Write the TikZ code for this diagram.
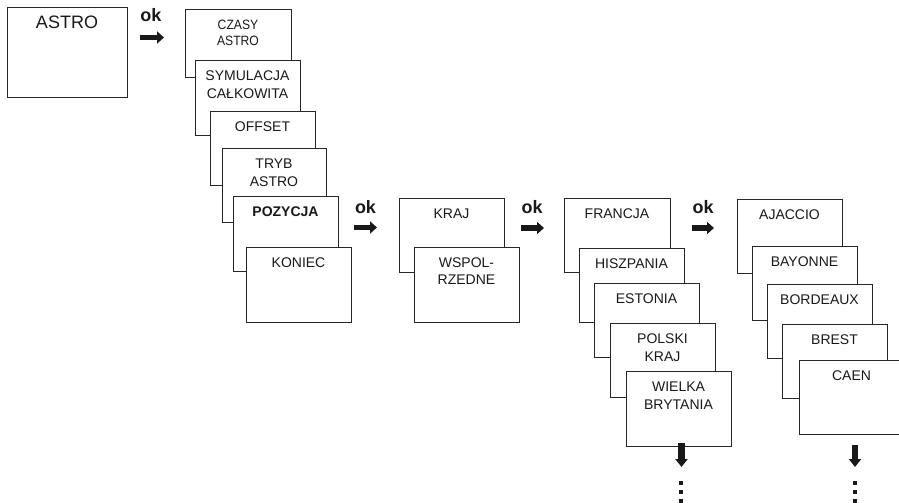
\documentclass[tikz,border=0pt]{standalone}
\usepackage{fontspec}
\setmainfont{Liberation Sans}
\newfontfamily\condfont{Liberation Sans}[FakeStretch=0.9]
\usetikzlibrary{arrows.meta}
\begin{document}
\begin{tikzpicture}[x=1pt,y=-1pt,
  scr/.style={draw=black!85, line width=0.8pt, fill=white, anchor=north west, inner sep=0pt, outer sep=0pt, minimum width=105pt, minimum height=75pt},
  lbl/.style={anchor=north, inner sep=0pt, align=center, font=\fontsize{14}{17.5}\selectfont, text=black!90},
  oktxt/.style={anchor=base, inner sep=0pt, font=\fontsize{18}{18}\selectfont\bfseries, text=black!90},
  okarrow/.style={line width=5.5pt, black!90, -{Triangle[width=12pt,length=7pt]}},
  downarrow/.style={line width=6.5pt, black!90, -{Triangle[width=12pt,length=8pt]}},
  dotbox/.style={fill=black!90, inner sep=0pt, minimum size=4pt}
]
\useasboundingbox (0,0) rectangle (899,503);

% ASTRO
\node[scr, minimum width=120pt, minimum height=90pt] (astro) at (7,7) {};
\node[lbl, font=\fontsize{18}{20}\selectfont] (astroT) at ([yshift=-9pt]astro.north) {ASTRO};

% ok 1
\node[oktxt] (ok1) at (151,22) {ok};
\coordinate (ok1s) at (140,37.5);
\coordinate (ok1e) at (164,37.5);
\draw[okarrow] (ok1s) -- (ok1e);

% column 1
\node[scr, minimum width=106pt, minimum height=68pt] (czasy) at (185,9) {};
\node[lbl, font=\condfont\fontsize{13.5}{16}\selectfont] (czasyT) at ([yshift=-11pt]czasy.north) {CZASY\\ASTRO};
\node[scr] (sym) at (195,60) {};
\node[lbl] (symT) at ([yshift=-11pt]sym.north) {SYMULACJA\\CAŁKOWITA};
\node[scr, minimum height=74pt] (offset) at (210,111) {};
\node[lbl] (offsetT) at ([yshift=-11pt]offset.north) {OFFSET};
\node[scr, minimum width=104pt, minimum height=74pt] (tryb) at (222,148) {};
\node[lbl] (trybT) at ([yshift=-11pt]tryb.north) {TRYB\\ASTRO};
\node[scr] (poz) at (233,196) {};
\node[lbl, font=\fontsize{14}{17.5}\selectfont\bfseries] (pozT) at ([yshift=-11pt]poz.north) {POZYCJA};
\node[scr] (koniec) at (246,247) {};
\node[lbl] (koniecT) at ([yshift=-11pt]koniec.north) {KONIEC};

% ok 2
\node[oktxt] (ok2) at (365.5,213) {ok};
\coordinate (ok2s) at (354,227.5);
\coordinate (ok2e) at (377,227.5);
\draw[okarrow] (ok2s) -- (ok2e);

% column 2
\node[scr, minimum height=74pt] (kraj) at (399,198) {};
\node[lbl] (krajT) at ([yshift=-11pt]kraj.north) {KRAJ};
\node[scr] (wspol) at (414,247) {};
\node[lbl] (wspolT) at ([yshift=-10.5pt]wspol.north) {WSPOL-\\RZEDNE};

% ok 3
\node[oktxt] (ok3) at (532,213) {ok};
\coordinate (ok3s) at (521,228);
\coordinate (ok3e) at (544,228);
\draw[okarrow] (ok3s) -- (ok3e);

% column 3
\node[scr, minimum width=106pt, minimum height=74pt] (francja) at (564,198) {};
\node[lbl] (francjaT) at ([yshift=-11pt]francja.north) {FRANCJA};
\node[scr, minimum height=74pt] (hisz) at (579,248) {};
\node[lbl] (hiszT) at ([yshift=-11pt]hisz.north) {HISZPANIA};
\node[scr, minimum height=74pt] (est) at (594,283) {};
\node[lbl] (estT) at ([yshift=-11pt]est.north) {ESTONIA};
\node[scr, minimum height=74pt] (polski) at (610,323) {};
\node[lbl] (polskiT) at ([yshift=-11pt]polski.north) {POLSKI\\KRAJ};
\node[scr] (wielka) at (626,371) {};
\node[lbl] (wielkaT) at ([yshift=-11pt]wielka.north) {WIELKA\\BRYTANIA};

\coordinate (d1s) at (681.5,443);
\coordinate (d1e) at (681.5,467);
\draw[downarrow] (d1s) -- (d1e);
\node[dotbox] (d1a) at (681,483) {};
\node[dotbox] (d1b) at (681,492) {};
\node[dotbox] (d1c) at (681,501) {};

% ok 4
\node[oktxt] (ok4) at (703,213) {ok};
\coordinate (ok4s) at (692,228);
\coordinate (ok4e) at (714,228);
\draw[okarrow] (ok4s) -- (ok4e);

% column 4
\node[scr, minimum height=74pt] (ajaccio) at (737,199) {};
\node[lbl] (ajaccioT) at ([yshift=-11pt]ajaccio.north) {AJACCIO};
\node[scr, minimum height=74pt] (bayonne) at (752,246) {};
\node[lbl] (bayonneT) at ([yshift=-11pt]bayonne.north) {BAYONNE};
\node[scr, minimum height=74pt] (bordeaux) at (767,284) {};
\node[lbl] (bordeauxT) at ([yshift=-11pt]bordeaux.north) {BORDEAUX};
\node[scr, minimum height=74pt] (brest) at (782,324) {};
\node[lbl] (brestT) at ([yshift=-11pt]brest.north) {BREST};
\node[scr, minimum height=74pt] (caen) at (799,360) {};
\node[lbl] (caenT) at ([yshift=-11pt]caen.north) {CAEN};

\coordinate (d2s) at (855,445);
\coordinate (d2e) at (855,467);
\draw[downarrow] (d2s) -- (d2e);
\node[dotbox] (d2a) at (855,483) {};
\node[dotbox] (d2b) at (855,492) {};
\node[dotbox] (d2c) at (855,501) {};
\end{tikzpicture}
\end{document}
